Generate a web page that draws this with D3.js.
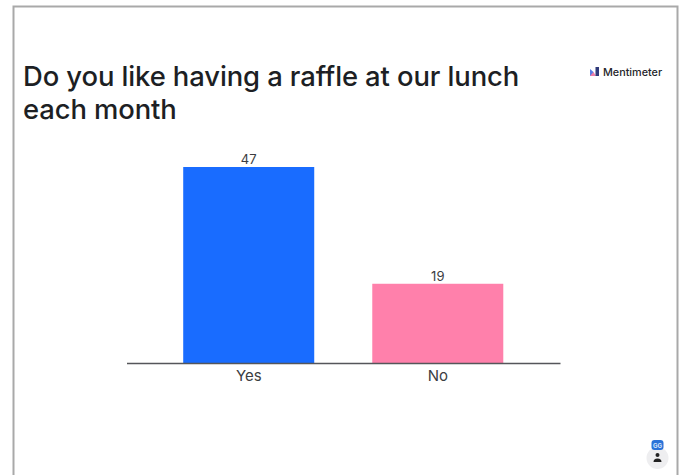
<!DOCTYPE html>
<html>
<head>
<meta charset="utf-8">
<script src="https://cdn.jsdelivr.net/npm/d3@7/dist/d3.min.js"></script>
<style>
html,body{margin:0;padding:0;background:#fff;overflow:hidden}
svg{display:block}
text{font-family:Inter,"Noto Sans",sans-serif}
</style>
</head>
<body>
<svg id="chart" width="682" height="475"></svg>
<script>
// Poll results
const categories = ["Yes", "No"];
const votes = [47, 19];
const barColors = ["#196cff", "#ff80ab"];
const titleLines = ["Do you like having a raffle at our lunch", "each month"];

const svg = d3.select("#chart");

// Slide frame: left, top and right edges only
svg.append("path")
  .attr("d", "M13.5,475V6.5H677.5V475")
  .attr("fill", "none")
  .attr("stroke", "#a9a9a9")
  .attr("stroke-width", 2);

// Title
svg.append("g").selectAll("text").data(titleLines).join("text")
  .attr("x", 23)
  .attr("y", (d, i) => 86 + i * 33)
  .attr("font-size", 27.4)
  .attr("font-weight", 450)
  .attr("letter-spacing", -0.1)
  .attr("fill", "#1d1f24")
  .text(d => d);

// Scales
const x = d3.scaleBand().domain(categories).range([126.5, 560]).paddingInner(0.307).paddingOuter(0.3);
const y = d3.scaleLinear().domain([0, 47]).range([363, 167]);

// Bars
svg.append("g").selectAll("rect").data(categories).join("rect")
  .attr("x", d => x(d))
  .attr("y", (d, i) => y(votes[i]))
  .attr("width", x.bandwidth())
  .attr("height", (d, i) => y(0) - y(votes[i]))
  .attr("fill", (d, i) => barColors[i]);

// Value labels
svg.append("g").selectAll("text").data(categories).join("text")
  .attr("x", d => x(d) + x.bandwidth() / 2)
  .attr("y", (d, i) => y(votes[i]) - 3)
  .attr("text-anchor", "middle")
  .attr("font-size", 13)
  .attr("fill", "#3b3d42")
  .text((d, i) => votes[i]);

// Category axis
const axis = svg.append("g")
  .attr("transform", `translate(0,${y(0)})`)
  .call(d3.axisBottom(x).tickSize(0).tickPadding(7));
axis.select(".domain").attr("stroke", "#55565a").attr("stroke-width", 1.5);
axis.selectAll("text")
  .attr("font-size", 15)
  .attr("font-family", 'Inter,"Noto Sans",sans-serif')
  .attr("fill", "#3b3d42");

// Brand mark and wordmark
const logo = svg.append("g").attr("transform", "translate(590,67)");
logo.append("path").attr("d", "M0,2L3.5,5V9H0Z").attr("fill", "#5b7fe6");
logo.append("path").attr("d", "M0,9L3.5,5L6,9Z").attr("fill", "#ef7fa8");
logo.append("rect").attr("x", 5.5).attr("y", 0).attr("width", 3.5).attr("height", 9).attr("fill", "#2f3a7a");
svg.append("text")
  .attr("x", 603).attr("y", 76)
  .attr("font-size", 10.8).attr("font-weight", 500)
  .attr("fill", "#25262b")
  .text("Mentimeter");

// Participant badge
svg.append("circle").attr("cx", 657.5).attr("cy", 458).attr("r", 11).attr("fill", "#eeeef0");
svg.append("circle").attr("cx", 657.5).attr("cy", 455).attr("r", 2).attr("fill", "#222");
svg.append("path").attr("d", "M653.5,462a4,3.5 0 0 1 8,0z").attr("fill", "#222");
svg.append("rect").attr("x", 651.5).attr("y", 440).attr("width", 12).attr("height", 10).attr("rx", 3).attr("fill", "#2a73d8");
svg.append("text")
  .attr("x", 657.5).attr("y", 447.5)
  .attr("text-anchor", "middle")
  .attr("font-size", 6).attr("font-weight", 700)
  .attr("fill", "#dbe8fb")
  .text("GG");
</script>
</body>
</html>
